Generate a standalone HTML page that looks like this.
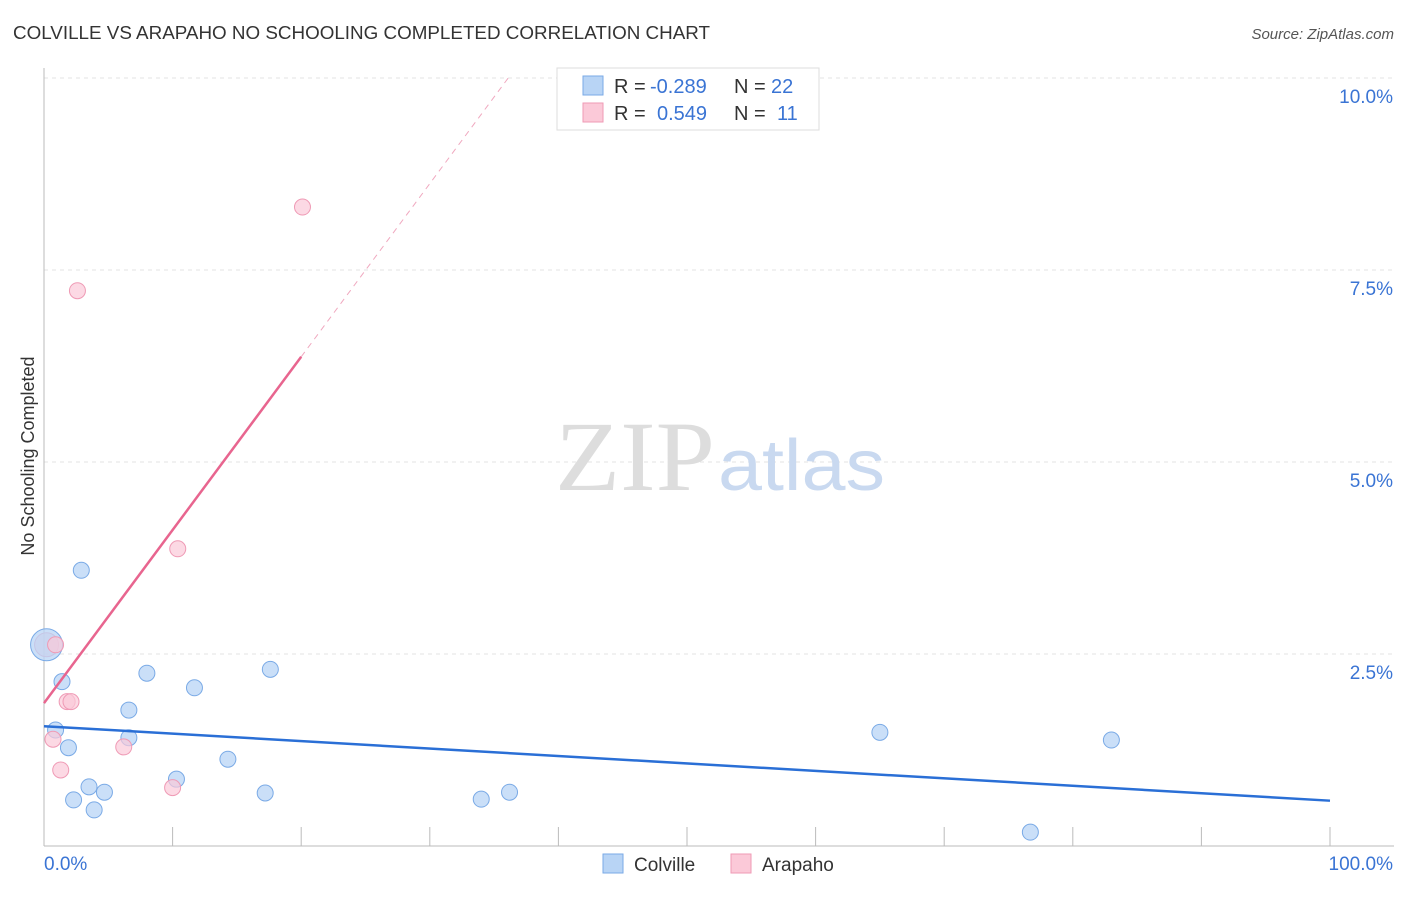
<!DOCTYPE html>
<html><head><meta charset="utf-8"><style>
body{margin:0;background:#fff;font-family:"Liberation Sans",sans-serif;}
</style></head><body>
<svg width="1406" height="892" xmlns="http://www.w3.org/2000/svg" font-family="Liberation Sans, sans-serif">
<text x="13" y="39" font-size="18" fill="#333" textLength="697" lengthAdjust="spacingAndGlyphs">COLVILLE VS ARAPAHO NO SCHOOLING COMPLETED CORRELATION CHART</text>
<text x="1394" y="39" font-size="15" fill="#555" font-style="italic" text-anchor="end">Source: ZipAtlas.com</text>
<g id="grid"></g>
<text x="715" y="490" font-size="100" text-anchor="end" fill="#ddd" font-family="Liberation Serif, serif" textLength="160" lengthAdjust="spacingAndGlyphs">ZIP</text>
<text x="718" y="490" font-size="72" fill="#c9d9f0" textLength="167" lengthAdjust="spacingAndGlyphs">atlas</text>
<text transform="translate(34,456) rotate(-90)" font-size="18" fill="#333" text-anchor="middle">No Schooling Completed</text>
<g id="marks"></g>
<g font-size="20">
<rect x="557" y="68" width="262" height="62" fill="#fff" stroke="#ddd"/>
<rect x="583" y="76" width="20" height="19" fill="#b8d4f5" stroke="#7aaae6"/>
<text x="614" y="93" fill="#333">R =</text>
<text x="650" y="93" fill="#3a74d4">-0.289</text>
<text x="734" y="93" fill="#333">N =</text>
<text x="771" y="93" fill="#3a74d4">22</text>
<rect x="583" y="103" width="20" height="19" fill="#fbc9d8" stroke="#ef9ab5"/>
<text x="614" y="120" fill="#333">R =</text>
<text x="657" y="120" fill="#3a74d4">0.549</text>
<text x="734" y="120" fill="#333">N =</text>
<text x="777" y="120" fill="#3a74d4">11</text>
</g>
<g>
<rect x="603" y="854" width="20" height="19" fill="#b8d4f5" stroke="#7aaae6"/>
<text x="634" y="871" font-size="19" fill="#333">Colville</text>
<rect x="731" y="854" width="20" height="19" fill="#fbc9d8" stroke="#ef9ab5"/>
<text x="762" y="871" font-size="19" fill="#333">Arapaho</text>
</g>
</svg>
<script>
const yTicks=[2.5,5.0,7.5,10.0];
const yTickLabels=["2.5%","5.0%","7.5%","10.0%"];
const xTickCount=10;
const colvilleX=[0.2,1.4,2.9,0.9,1.9,2.3,3.5,3.9,4.7,6.6,6.6,8.0,10.3,11.7,14.3,17.2,17.6,34.0,36.2,65.0,76.7,83.0];
const colvilleY=[2.62,2.14,3.59,1.51,1.28,0.60,0.77,0.47,0.70,1.77,1.41,2.25,0.87,2.06,1.13,0.69,2.30,0.61,0.70,1.48,0.18,1.38];
const arapahoX=[20.1,2.6,10.4,0.9,1.8,2.1,0.7,1.3,6.2,10.0,0.2];
const arapahoY=[8.32,7.23,3.87,2.62,1.88,1.88,1.39,0.99,1.29,0.76,2.62];
const colvilleTrend=[1.56,0.59];
const arapahoTrend=[1.86,0.2255];
const NS="http://www.w3.org/2000/svg";
const X=v=>44+v*12.86, Y=v=>846-v*76.8;
function mk(t,a,p){const e=document.createElementNS(NS,t);for(const k in a)e.setAttribute(k,a[k]);p.appendChild(e);return e;}
const g=document.getElementById('grid'),m=document.getElementById('marks');
yTicks.forEach((t,i)=>{const l=mk('line',{x1:44,x2:1394,y1:Y(t),y2:Y(t),stroke:'#e3e3e3','stroke-dasharray':'4,4'},g);


const tx=mk('text',{x:1393,y:Y(t)+25,'font-size':19,fill:'#3a74d4','text-anchor':'end'},g);tx.textContent=yTickLabels[i];

});
const ax=mk('line',{x1:44,x2:44,y1:68,y2:846,stroke:'#bbb'},g);


const bx=mk('line',{x1:44,x2:1394,y1:846,y2:846,stroke:'#bbb'},g);


for(let i=1;i<=xTickCount;i++){const t=mk('line',{x1:X(i*10),x2:X(i*10),y1:827,y2:846,stroke:'#bbb'},g);

}
const l0=mk('text',{x:44,y:870,'font-size':19,fill:'#3a74d4'},g);l0.textContent='0.0%';


const l1=mk('text',{x:1393,y:870,'font-size':19,fill:'#3a74d4','text-anchor':'end'},g);l1.textContent='100.0%';


arapahoX.forEach((x,i)=>{if(i!=10)return;const c=mk('circle',{cx:X(x),cy:Y(arapahoY[i]),r:12,fill:'#fbc9d8','fill-opacity':0.7,stroke:'#ef9ab5'},m);

});
colvilleX.forEach((x,i)=>{const c=mk('circle',{cx:X(x),cy:Y(colvilleY[i]),r:i==0?16:8,fill:'#b8d4f5','fill-opacity':0.75,stroke:'#7aaae6'},m);

});
arapahoX.forEach((x,i)=>{if(i==10)return;const c=mk('circle',{cx:X(x),cy:Y(arapahoY[i]),r:8,fill:'#fbc9d8','fill-opacity':0.7,stroke:'#ef9ab5'},m);

});
const bt=mk('line',{x1:X(0),y1:Y(colvilleTrend[0]),x2:X(100),y2:Y(colvilleTrend[1]),stroke:'#2a6fd6','stroke-width':2.5},m);


const pf=x=>arapahoTrend[0]+arapahoTrend[1]*x;
const pt=mk('line',{x1:X(0),y1:Y(pf(0)),x2:X(20),y2:Y(pf(20)),stroke:'#e8658f','stroke-width':2.5},m);


const xe=(10-arapahoTrend[0])/arapahoTrend[1];
const pd=mk('line',{x1:X(20),y1:Y(pf(20)),x2:X(xe),y2:Y(10),stroke:'#f0a8bf','stroke-width':1,'stroke-dasharray':'6,5'},m);


</script>
</body></html>
